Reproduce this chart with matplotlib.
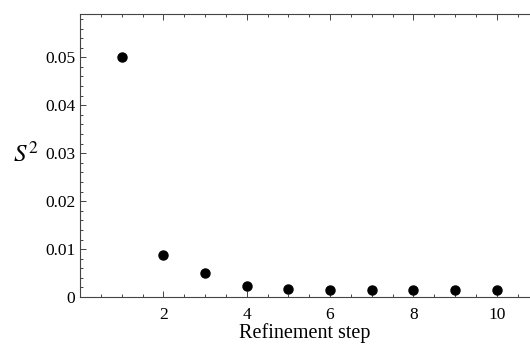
import matplotlib.pyplot as plt
from matplotlib.ticker import MultipleLocator

# dane
steps = [1, 2, 3, 4, 5, 6, 7, 8, 9, 10]
s2 = [0.0500, 0.0087, 0.0050, 0.0023, 0.0017, 0.0014, 0.0014, 0.0014, 0.0015, 0.0014]
xticks = [2, 4, 6, 8, 10]
yticks = [0, 0.01, 0.02, 0.03, 0.04, 0.05]
ytick_labels = ["0", "0.01", "0.02", "0.03", "0.04", "0.05"]

plt.rcParams['font.family'] = ['Liberation Serif', 'DejaVu Serif']
plt.rcParams['mathtext.fontset'] = 'stix'

fig = plt.figure(figsize=(5.3, 3.45), dpi=100)
ax = fig.add_axes([0.151, 0.139, 0.849, 0.82])

ax.plot(steps, s2, 'o', color='black', ms=6.5)

ax.set_xlim(0, 10.8)
ax.set_ylim(0, 0.059)
ax.set_xticks(xticks)
ax.set_yticks(yticks)
ax.set_yticklabels(ytick_labels)
ax.xaxis.set_minor_locator(MultipleLocator(0.5))
ax.yaxis.set_minor_locator(MultipleLocator(0.002))

ax.spines['right'].set_visible(False)
for s in ['left', 'bottom', 'top']:
    ax.spines[s].set_linewidth(0.8)
    ax.spines[s].set_color('#444444')

ax.tick_params(which='both', direction='in', top=True, right=False,
               labelsize=12.5, color='#444444', width=0.7)
ax.tick_params(which='major', length=4)
ax.tick_params(which='minor', length=2)
ax.tick_params(axis='x', pad=7)

ax.set_xlabel("Refinement step", fontsize=14.5, labelpad=0)
ax.set_ylabel("$S^{\\mathrm{2}}$", fontsize=18, rotation=0, labelpad=14)
ax.yaxis.set_label_coords(-0.12, 0.46)

fig.savefig("out.png", dpi=100)
